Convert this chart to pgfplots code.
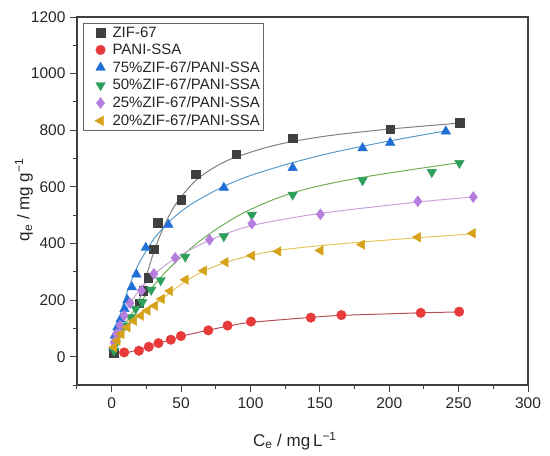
\documentclass[border=0pt]{standalone}
\usepackage{pgfplots}
\pgfplotsset{compat=1.18}
\usepackage{fontspec}
\setmainfont{Liberation Sans}
\definecolor{cK}{HTML}{404040}\definecolor{lK}{HTML}{808080}
\definecolor{cR}{HTML}{E83A3A}\definecolor{lR}{HTML}{B5505A}
\definecolor{cB}{HTML}{1F6FD6}\definecolor{lB}{HTML}{5B9BC8}
\definecolor{cG}{HTML}{2E9E5B}\definecolor{lG}{HTML}{6FAF55}
\definecolor{cP}{HTML}{B57EDC}\definecolor{lP}{HTML}{C9A2DA}
\definecolor{cY}{HTML}{D6A21A}\definecolor{lY}{HTML}{E6C55A}
\begin{document}
\begin{tikzpicture}
\begin{axis}[
  at={(0,0)}, anchor=south west,
  width=451pt, height=368pt, scale only axis,
  xmin=-25, xmax=300, ymin=-100, ymax=1200,
  xtick={0,50,...,300}, ytick={0,200,...,1200},
  minor xtick={-25,25,75,...,275}, minor ytick={-100,100,...,1100},
  axis line style={draw=black!75, line width=1.2pt},
  tick style={black!75, line width=1pt},
  tick align=outside, xtick pos=bottom, ytick pos=left,
  major tick length=7pt, minor tick length=4pt,
  /pgf/number format/assume math mode=true,
  /pgf/number format/1000 sep={},
  ticklabel style={font=\fontsize{15.5}{17}\selectfont, black!85},
  xticklabel style={yshift=-2pt},
  yticklabel style={xshift=-1pt},
  xlabel={C\textsubscript{e} / mg\,L\textsuperscript{−1}},
  label style={font=\fontsize{17}{19}\selectfont, black!85},
  xlabel style={at={(axis description cs:0.483,-0.152)}, anchor=center},
  legend style={at={(axis description cs:0.013,0.984)}, anchor=north west,
    draw=black!60, font=\fontsize{15}{16}\selectfont, inner sep=1.5pt,
    row sep=1.4pt, cells={anchor=west, text=black!85},
    /tikz/every even column/.append style={column sep=4pt}},
  legend image code/.code={\path[draw=none,fill=none] (0pt,-1pt) rectangle (26pt,1pt); \draw[#1] plot coordinates {(16pt,0pt)};},
  legend cell align=left,
  clip=false,
]
% fitted curves
\addplot[lK, line width=1pt, smooth, forget plot] coordinates {(18,165)(20,200)(25,285)(30,365)(35,430)(40,485)(45,530)(50,565)(60,620)(70,657)(80,685)(90,706)(110,737)(130,760)(160,783)(200,804)(250,825)};
\addplot[lR, line width=1pt, smooth, forget plot] coordinates {(9,12)(20,25)(27,36)(34,48)(43,60)(50,72)(70,94)(84,108)(100,121)(144,139)(166,146)(223,155)(250,158)};
\addplot[lB, line width=1pt, smooth, forget plot] coordinates {(1,35)(3,80)(6,145)(10,212)(15,278)(20,333)(30,413)(40,470)(50,513)(60,547)(80,600)(100,640)(130,685)(160,722)(200,762)(240,797)};
\addplot[lG, line width=1pt, smooth, forget plot] coordinates {(1,20)(5,70)(10,118)(15,155)(20,188)(30,250)(40,305)(50,352)(60,395)(70,432)(80,465)(90,495)(100,520)(115,552)(130,578)(150,604)(180,633)(215,660)(250,685)};
\addplot[lP, line width=1pt, smooth, forget plot] coordinates {(1,35)(3,75)(6,115)(10,160)(15,202)(20,235)(30,288)(45,345)(70,410)(100,462)(150,506)(220,546)(260,564)};
\addplot[lY, line width=1pt, smooth, forget plot] coordinates {(1,22)(4,55)(7,79)(11,104)(16,128)(21,147)(26,165)(31,184)(36,203)(42,226)(53,265)(66,302)(82,333)(100,357)(120,376)(150,392)(180,405)(220,420)(260,434)};
% data
\addplot[only marks, mark=square*, mark size=4.3pt, draw=cK, fill=cK] coordinates {(1.5,15)(19.7,189)(22.8,234)(26.4,279)(30.4,380)(33,473)(50,555)(60.7,644)(89.7,715)(130.4,772)(200.7,803)(250.6,827)};
\addlegendentry{ZIF-67}
\addplot[only marks, mark=*, mark size=4.8pt, draw=cR, fill=cR] coordinates {(9,15)(19.6,21)(26.7,35)(33.7,48)(42.6,60)(49.9,73)(69.6,93)(83.5,110)(100.4,124)(143.5,138)(165.5,147)(222.7,155)(250.4,159)};
\addlegendentry{PANI-SSA}
\addplot[only marks, mark=triangle*, mark size=5.5pt, draw=cB, fill=cB] coordinates {(1.2,33)(2.2,74)(4.1,104)(6.5,133)(9.2,169)(11.3,200)(14.5,246)(17.8,291)(24.6,385)(40.9,466)(80.8,597)(130.4,667)(180.8,737)(200.7,756)(240.8,796)};
\addlegendentry{75\%ZIF-67/PANI-SSA}
\addplot[only marks, mark=triangle*, mark options={rotate=180}, mark size=5.5pt, draw=cG, fill=cG] coordinates {(1.7,21)(2.9,45)(5.3,80)(9.4,110)(13.7,139)(17.3,169)(22,192)(28.5,236)(35.3,270)(53,353)(80.8,425)(101,501)(130.4,572)(180.8,623)(230.7,652)(250.6,684)};
\addlegendentry{50\%ZIF-67/PANI-SSA}
\addplot[only marks, mark=diamond*, mark size=5.5pt, draw=cP, fill=cP] coordinates {(1.7,51)(3.4,80)(6,110)(8.9,145)(13.2,189)(21.5,234)(30.4,293)(45.8,349)(70.5,413)(101,470)(150.4,503)(220.6,549)(260.6,564)};
\addlegendentry{25\%ZIF-67/PANI-SSA}
\addplot[only marks, mark=triangle*, mark options={rotate=90}, mark size=5.5pt, draw=cY, fill=cY] coordinates {(1.7,33)(4.1,57)(7,80)(11.3,104)(16,127)(20.9,145)(25.7,163)(31.2,180)(36,204)(42,232)(53.2,272)(66.4,304)(82,334)(101,357)(120,372)(150.4,375)(180.3,396)(220.6,422)(260.1,436)};
\addlegendentry{20\%ZIF-67/PANI-SSA}
\node[rotate=90, anchor=center, font=\fontsize{17}{19}\selectfont, text=black!85] at (axis description cs:-0.1175,0.503) {q\textsubscript{e} / mg g\textsuperscript{−1}};
\end{axis}
\pgfresetboundingbox
\path (-77pt,-71pt) rectangle (473pt,385pt);
\end{tikzpicture}
\end{document}
